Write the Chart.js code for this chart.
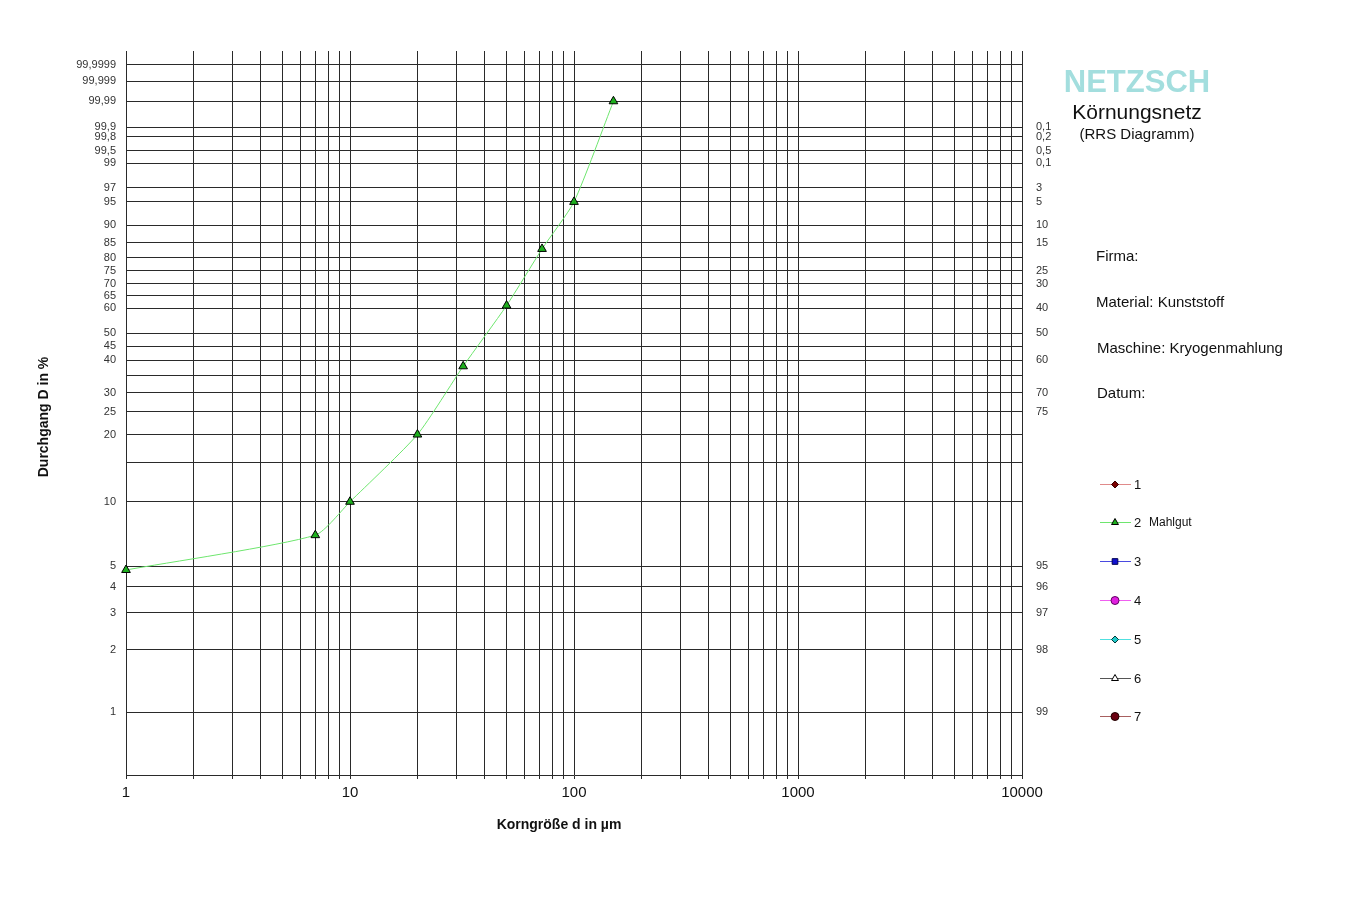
<!DOCTYPE html>
<html lang="de">
<head>
<meta charset="utf-8">
<title>Körnungsnetz (RRS Diagramm)</title>
<script src="https://cdn.jsdelivr.net/npm/chart.js@4.4.0/dist/chart.umd.min.js"></script>
<style>
  html, body { margin: 0; padding: 0; background: #ffffff; }
  #wrap { width: 1350px; height: 900px; position: relative; }
  canvas { display: block; }
</style>
</head>
<body>
<div id="wrap"><canvas id="rrs" width="1350" height="900"></canvas></div>
<script>
// ---- Messdaten: Mahlgut (Kunststoff, Kryogenmahlung) ----
const grainSizes = [1, 7, 10, 20, 32, 50, 72, 100, 150];          // d in µm
const passing    = [4.8, 7, 10, 20, 38, 61, 83, 95, 99.99];        // Durchgang D in %

// ---- Achsenteilung ----
const xGridValues = [1,2,3,4,5,6,7,8,9,10,20,30,40,50,60,70,80,90,100,200,300,400,500,600,700,800,900,1000,2000,3000,4000,5000,6000,7000,8000,9000,10000];
const leftTickValues = [99.9999, 99.999, 99.99, 99.9, 99.8, 99.5, 99, 97, 95, 90, 85, 80, 75, 70, 65, 60, 50, 45, 40, 35, 30, 25, 20, 15, 10, 5, 4, 3, 2, 1];
const leftTickLabels = ['99,9999', '99,999', '99,99', '99,9', '99,8', '99,5', '99', '97', '95', '90', '85', '80', '75', '70', '65', '60', '50', '45', '40', '', '30', '25', '20', '', '10', '5', '4', '3', '2', '1'];
const rightTickValues = [99.9, 99.8, 99.5, 99, 97, 95, 90, 85, 75, 70, 60, 50, 40, 30, 25, 5, 4, 3, 2, 1];
const rightTickLabels = ['0,1', '0,2', '0,5', '0,1', '3', '5', '10', '15', '25', '30', '40', '50', '60', '70', '75', '95', '96', '97', '98', '99'];

// ---- Legendeneinträge ----
const seriesNames = ['1', '2  Mahlgut', '3', '4', '5', '6', '7'];

// RRSB-Transformation: log10(-ln(1 - D/100))
function rrsb(d) { return Math.log10(-Math.log(1 - d / 100)); }
const Y_MIN = -2.302, Y_MAX = 1.208;

const FONT = '"Liberation Sans", Arial, Helvetica, sans-serif';

const seriesStyles = [
  { line: '#e08a8a', fill: '#7a0000', border: '#3a0000', style: 'rectRot', r: 3.5 },
  { line: '#6ee66e', fill: '#1eb01e', border: '#000000', style: 'triangle', r: 5 },
  { line: '#4a4ae0', fill: '#1010d0', border: '#000050', style: 'rect', r: 4 },
  { line: '#f060f0', fill: '#e020e0', border: '#600060', style: 'circle', r: 4 },
  { line: '#50e0e0', fill: '#20c8c8', border: '#003838', style: 'rectRot', r: 3.5 },
  { line: '#555555', fill: '#ffffff', border: '#000000', style: 'triangle', r: 4.5 },
  { line: '#a86060', fill: '#6a0010', border: '#200000', style: 'circle', r: 4 }
];

const datasets = seriesNames.map((name, i) => {
  const s = seriesStyles[i];
  const data = (i === 1) ? grainSizes.map((x, k) => ({ x: x, y: rrsb(passing[k]) })) : [];
  return {
    label: name,
    data: data,
    showLine: true,
    clip: false,
    borderColor: s.line,
    borderWidth: 1,
    pointStyle: s.style,
    pointRadius: s.r,
    pointBackgroundColor: s.fill,
    pointBorderColor: s.border,
    pointBorderWidth: 1,
    fill: false,
    tension: 0.2
  };
});

// Beschriftungen rechts, Legende und Achsentitel
const sidePanel = {
  id: 'sidePanel',
  afterDraw(chart) {
    const ctx = chart.ctx;
    ctx.save();

    // Achsentitel
    ctx.fillStyle = '#111111';
    ctx.font = 'bold 14px ' + FONT;
    ctx.textAlign = 'center';
    ctx.textBaseline = 'middle';
    ctx.fillText('Korngröße d in µm', 559, 825);
    ctx.save();
    ctx.translate(44, 417);
    ctx.rotate(-Math.PI / 2);
    ctx.fillText('Durchgang D in %', 0, 0);
    ctx.restore();

    // Kopf
    ctx.fillStyle = '#a3dede';
    ctx.font = 'bold 31px ' + FONT;
    ctx.fillText('NETZSCH', 1137, 83);
    ctx.fillStyle = '#111111';
    ctx.font = '21px ' + FONT;
    ctx.fillText('Körnungsnetz', 1137, 113);
    ctx.font = '15px ' + FONT;
    ctx.fillText('(RRS Diagramm)', 1137, 135);

    // Angaben
    ctx.textAlign = 'left';
    ctx.font = '15px ' + FONT;
    ctx.fillText('Firma:', 1096, 257);
    ctx.fillText('Material: Kunststoff', 1096, 303);
    ctx.fillText('Maschine: Kryogenmahlung', 1097, 349);
    ctx.fillText('Datum:', 1097, 394);

    // Legende
    const rowsY = [484, 522, 561, 600, 639, 678, 716];
    chart.data.datasets.forEach((ds, i) => {
      const y = rowsY[i];
      ctx.strokeStyle = ds.borderColor;
      ctx.lineWidth = 1;
      ctx.beginPath();
      ctx.moveTo(1100, y + 0.5);
      ctx.lineTo(1131, y + 0.5);
      ctx.stroke();
      ctx.fillStyle = ds.pointBackgroundColor;
      ctx.strokeStyle = ds.pointBorderColor;
      Chart.helpers.drawPoint(ctx, {
        pointStyle: ds.pointStyle,
        radius: Math.min(ds.pointRadius, 4),
        borderWidth: 1,
        rotation: 0
      }, 1115, y + 0.5);
      ctx.fillStyle = '#111111';
      const parts = ds.label.split('  ');
      ctx.font = '13px ' + FONT;
      ctx.fillText(parts[0], 1134, y + 1);
      if (parts[1]) {
        ctx.font = '12px ' + FONT;
        ctx.fillText(parts[1], 1149, y + 1);
      }
    });
    ctx.restore();
  }
};

new Chart(document.getElementById('rrs'), {
  type: 'scatter',
  data: { datasets: datasets },
  plugins: [sidePanel],
  options: {
    responsive: false,
    devicePixelRatio: 1,
    animation: false,
    layout: { padding: { top: 51, left: 0, right: 0, bottom: 0 } },
    plugins: {
      legend: { display: false },
      tooltip: { enabled: false }
    },
    scales: {
      x: {
        type: 'logarithmic',
        position: 'bottom',
        min: 1,
        max: 10000,
        afterBuildTicks: (scale) => { scale.ticks = xGridValues.map(v => ({ value: v })); },
        afterFit: (scale) => { scale.height = 125; },
        grid: { color: '#2a2a2a', lineWidth: 1, drawTicks: true, tickLength: 4, tickColor: '#2a2a2a' },
        border: { display: true, color: '#2a2a2a', width: 1 },
        ticks: {
          autoSkip: false,
          maxRotation: 0,
          padding: 5,
          color: '#111111',
          font: { family: FONT, size: 15 },
          callback: (v) => {
            const l = Math.log10(v);
            return Math.abs(l - Math.round(l)) < 1e-9 ? String(v) : '';
          }
        }
      },
      y: {
        type: 'linear',
        position: 'left',
        min: Y_MIN,
        max: Y_MAX,
        afterBuildTicks: (scale) => { scale.ticks = leftTickValues.map(v => ({ value: rrsb(v) })); },
        afterFit: (scale) => { scale.width = 126; },
        grid: { color: '#2a2a2a', lineWidth: 1, drawTicks: false },
        border: { display: true, color: '#2a2a2a', width: 1 },
        ticks: {
          autoSkip: false,
          padding: 10,
          color: '#333333',
          font: { family: FONT, size: 11 },
          callback: (v, i) => leftTickLabels[i]
        }
      },
      y2: {
        type: 'linear',
        position: 'right',
        min: Y_MIN,
        max: Y_MAX,
        afterBuildTicks: (scale) => { scale.ticks = rightTickValues.map(v => ({ value: rrsb(v) })); },
        afterFit: (scale) => { scale.width = 328; },
        grid: { display: false, drawTicks: false },
        border: { display: false },
        ticks: {
          autoSkip: false,
          padding: 14,
          color: '#333333',
          font: { family: FONT, size: 11 },
          callback: (v, i) => rightTickLabels[i]
        }
      }
    }
  }
});
</script>
</body>
</html>
